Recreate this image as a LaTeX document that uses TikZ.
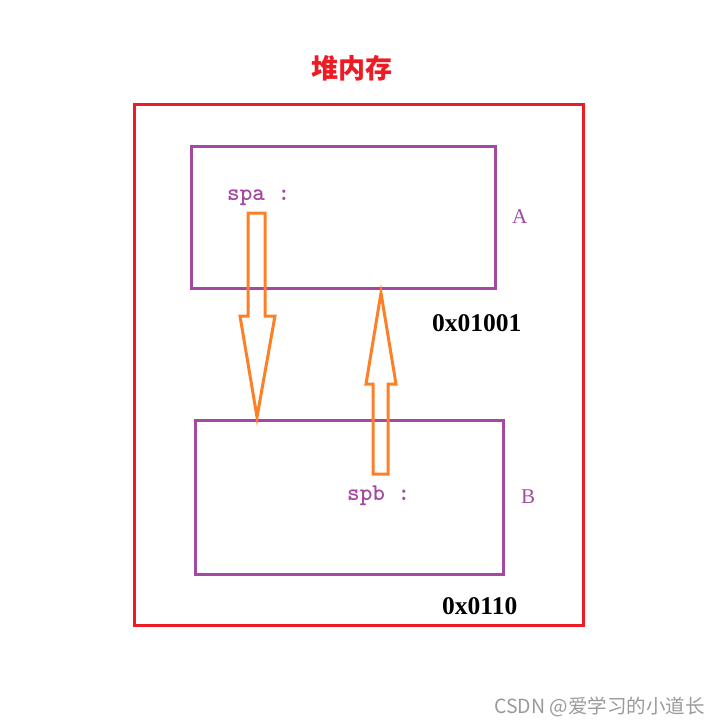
\documentclass[tikz,border=0pt]{standalone}
\usepackage{fontspec}
\setmainfont{Liberation Serif}
\newfontfamily\cjkfont{Noto Sans CJK SC}
\usetikzlibrary{positioning}
\definecolor{HeapRed}{HTML}{ED1C24}
\definecolor{ObjPurple}{HTML}{A349A4}
\definecolor{PtrOrange}{HTML}{FF7F27}
\definecolor{MarkGray}{HTML}{9A9A9A}

\begin{document}
\begin{tikzpicture}[
    x=1pt, y=-1pt,
    heap/.style={
        rectangle,
        draw=HeapRed,
        line width=3pt,
        inner sep=0pt
    },
    object/.style={
        rectangle,
        draw=ObjPurple,
        line width=3pt,
        inner sep=0pt
    },
    pointer/.style={
        draw=PtrOrange,
        line width=3pt,
        line join=miter
    },
    varname/.style={
        text=ObjPurple,
        font=\ttfamily\bfseries\fontsize{24}{26}\selectfont,
        inner sep=0pt
    },
    objname/.style={
        text=ObjPurple,
        font=\fontsize{21}{24}\selectfont,
        inner sep=0pt
    },
    address/.style={
        text=black,
        font=\bfseries\fontsize{25.5}{28}\selectfont,
        inner sep=0pt
    }
]
    \useasboundingbox (0,0) rectangle (719,724);

    % heap and the two objects
    \node[heap, minimum width=449pt, minimum height=521pt] (heapbox) at (358.5,364.5) {};
    \node[object, minimum width=304pt, minimum height=142pt] (objA) at (343,217) {};
    \node[object, minimum width=308pt, minimum height=154pt] (objB) at (349,497) {};

    \node[text=HeapRed, font=\cjkfont\bfseries\fontsize{27}{30}\selectfont, inner sep=0pt]
        (title) at (352,68) {堆内存};

    \node[varname, anchor=base west] (spa) at (227,200) {spa :};
    \node[varname, anchor=base west] (spb) at (347,500) {spb :};
    \node[objname, anchor=base west] (nameA) at (512,223) {A};
    \node[objname, anchor=base west] (nameB) at (521,503) {B};
    \node[address, anchor=base west] (addrA) at (432,331) {0x01001};
    \node[address, anchor=base west] (addrB) at (442,614) {0x0110};

    % spa -> B, spb -> A
    \draw[pointer] (248,213) -- (265,213) -- (265,316) -- (275,316)
        -- (257,417) -- (240,316) -- (248,316) -- cycle;
    \draw[pointer] (373,474) -- (373,384) -- (366,384) -- (381,293)
        -- (396,384) -- (388,384) -- (388,474) -- cycle;

    \node[text=MarkGray, font=\cjkfont\fontsize{19.5}{22}\selectfont, anchor=base east, inner sep=0pt]
        (mark) at (705,713) {CSDN @爱学习的小道长};
\end{tikzpicture}
\end{document}
